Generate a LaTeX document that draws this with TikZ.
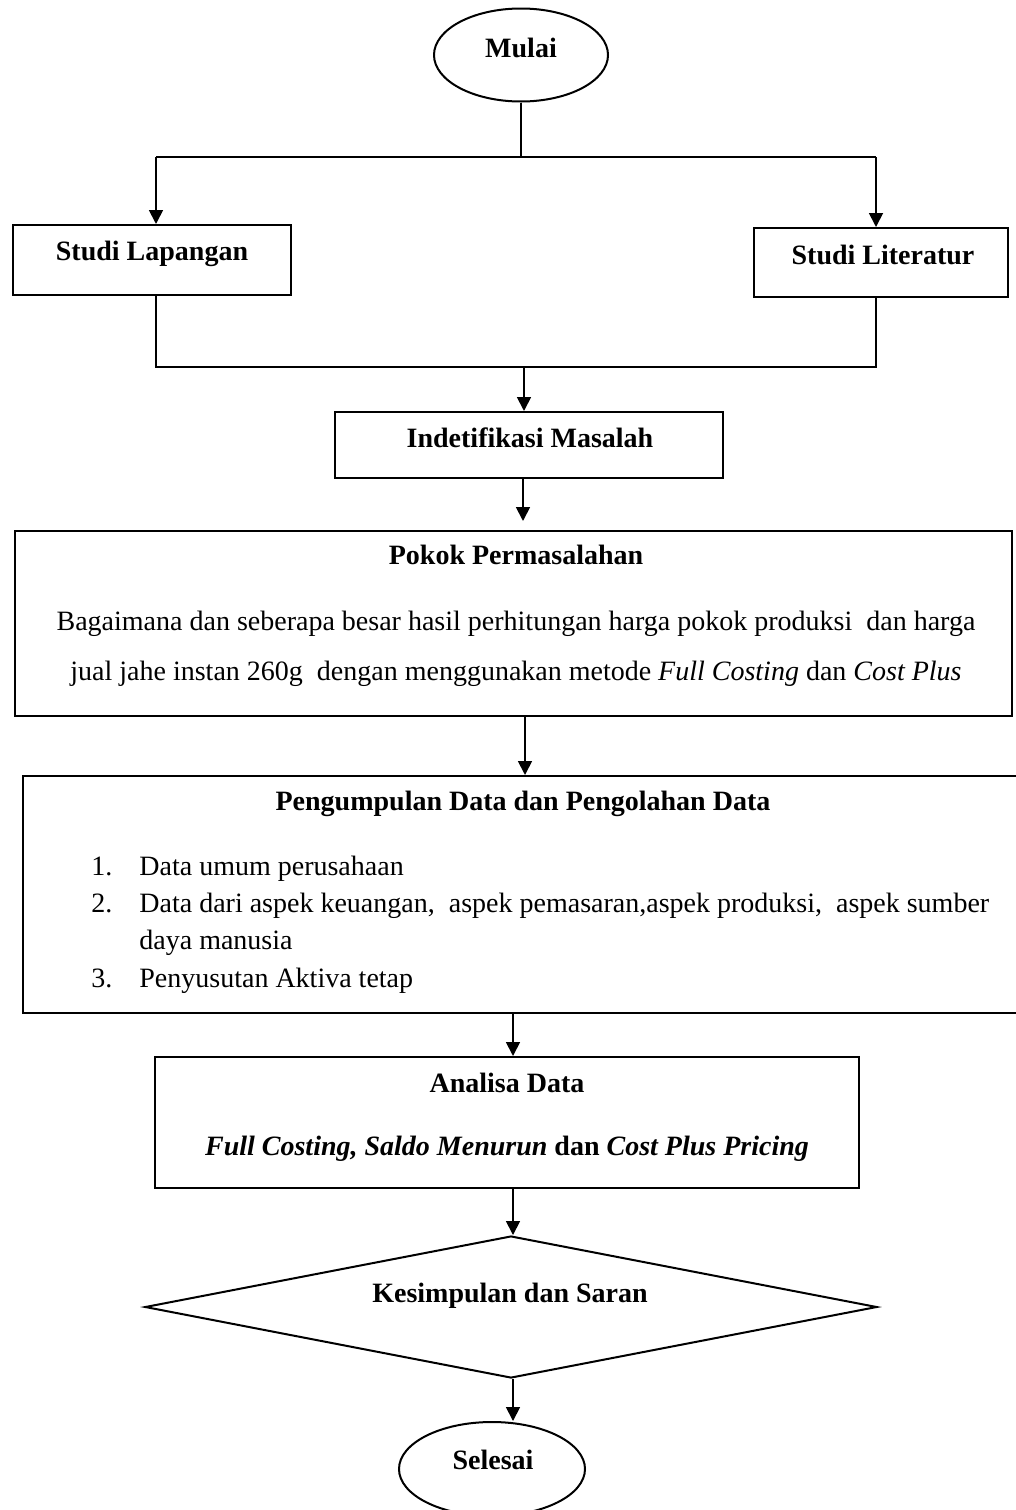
\documentclass[tikz,border=0pt]{standalone}
\usepackage{fontspec}
\setmainfont{Liberation Serif}
\usetikzlibrary{shapes.geometric,arrows.meta,fit}
\begin{document}
\begin{tikzpicture}[x=0.5pt,y=-0.5pt,
  box/.style={draw, line width=1pt, inner sep=0pt},
  ln/.style={line width=0.9pt},
  arr/.style={ln, -{Triangle[length=7pt,width=7pt]}},
  tx/.style={inner sep=0pt, text height=10pt, text depth=3pt, font=\fontsize{14}{17}\selectfont},
  bt/.style={tx, font=\bfseries\fontsize{14}{17}\selectfont}]
\useasboundingbox (0,0) rectangle (1016,1510);

% start
\node[box, ellipse, minimum width=87pt, minimum height=46.5pt] (mulai) at (521,55) {};
\node[bt] (tmulai) at (521,50) {Mulai};

% two studies
\node[box, fit={(13,225)(291,295)}] (sl) {};
\node[bt] (tsl) at (152,253) {Studi Lapangan};
\node[box, fit={(754,228)(1008,297)}] (slt) {};
\node[bt] (tslt) at (883,257) {Studi Literatur};

\coordinate (split) at (521,157);
\coordinate (tl) at (156,157);
\coordinate (tr) at (876,157);
\draw[ln] (mulai.south) -- (split);
\draw[ln] (tl) -- (tr);
\draw[arr] (tl) -- (tl |- sl.north);
\draw[arr] (tr) -- (tr |- slt.north);

% identification
\node[box, fit={(335,412)(723,478)}] (idm) {};
\node[bt] (tidm) at (530,440) {Indetifikasi Masalah};
\coordinate (bl) at (156,367);
\coordinate (br) at (876,367);
\coordinate (jm) at (524,367);
\draw[ln] (bl |- sl.south) -- (bl) -- (br) -- (br |- slt.south);
\draw[arr] (jm) -- (jm |- idm.north);

% main problem
\node[box, fit={(15,531)(1012,716)}] (pokok) {};
\node[bt] (tpokok) at (516,557) {Pokok Permasalahan};
\node[tx] (p1) at (516,623) {Bagaimana dan seberapa besar hasil perhitungan harga pokok produksi\ \ dan harga};
\node[tx] (p2) at (516,673) {jual jahe instan 260g\ \ dengan menggunakan metode \textit{Full Costing} dan \textit{Cost Plus}};
\coordinate (c2) at (523,0);
\draw[arr, shorten >=4.5pt] (idm.south -| c2) -- (pokok.north -| c2);

% data collection
\node[box, fit={(23,776)(1024,1013)}] (peng) {};
\node[bt] (tpeng) at (523,803) {Pengumpulan Data dan Pengolahan Data};
\node[tx, anchor=west] (n1) at (91,868) {1.};
\node[tx, anchor=west] (i1) at (139,868) {Data umum perusahaan};
\node[tx, anchor=west] (n2) at (91,905) {2.};
\node[tx, anchor=west] (i2) at (139,905) {Data dari aspek keuangan,\ \ aspek pemasaran,aspek produksi,\ \ aspek sumber};
\node[tx, anchor=west] (i2b) at (139,942) {daya manusia};
\node[tx, anchor=west] (n3) at (91,980) {3.};
\node[tx, anchor=west] (i3) at (139,980) {Penyusutan Aktiva tetap};
\coordinate (c3) at (525,0);
\draw[arr] (pokok.south -| c3) -- (peng.north -| c3);

% analysis
\node[box, fit={(155,1057)(859,1188)}] (ana) {};
\node[bt] (tana) at (507,1085) {Analisa Data};
\node[bt] (tana2) at (507,1148) {\textit{Full Costing, Saldo Menurun} dan \textit{Cost Plus Pricing}};
\coordinate (c4) at (513,0);
\draw[arr] (peng.south -| c4) -- (ana.north -| c4);

% conclusion
\node[box, diamond, minimum width=366pt, minimum height=71pt] (dia) at (511,1307) {};
\node[bt] (tdia) at (510,1295) {Kesimpulan dan Saran};
\draw[arr] (ana.south -| c4) -- (dia.north -| c4);

% end
\node[box, ellipse, minimum width=93pt, minimum height=47pt] (sel) at (492,1469) {};
\node[bt] (tsel) at (493,1462) {Selesai};
\draw[arr] (dia.south -| c4) -- (sel.north -| c4);
\end{tikzpicture}
\end{document}
